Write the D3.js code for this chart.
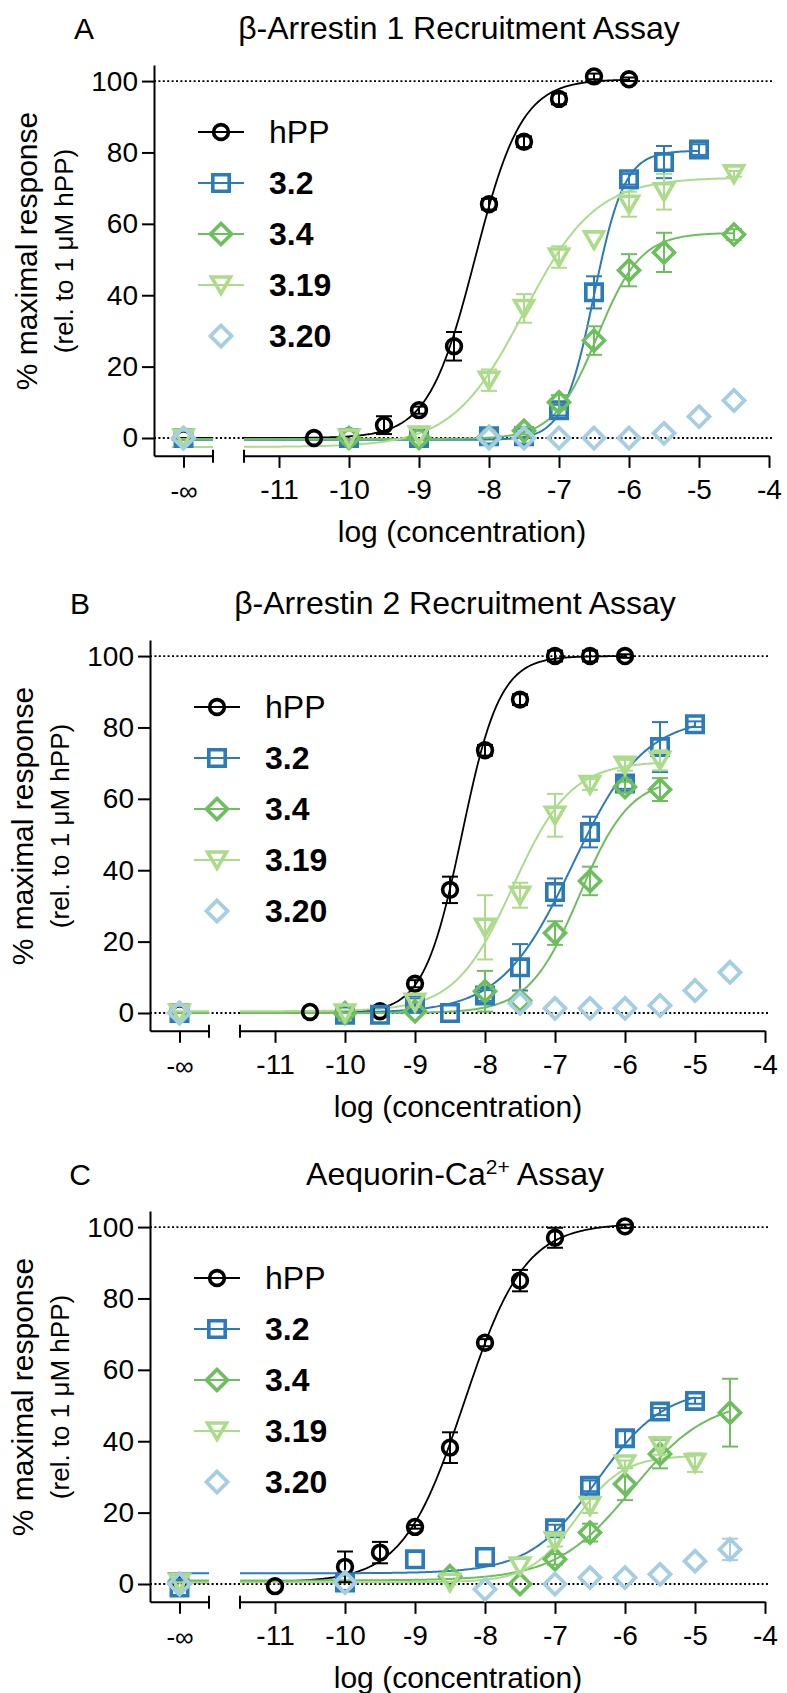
<!DOCTYPE html>
<html>
<head>
<meta charset="utf-8">
<title>Concentration-response curves</title>
<style>
  body { margin: 0; background: #ffffff; }
  svg { display: block; font-family: "Liberation Sans", Arial, sans-serif; }
</style>
</head>
<body>
<div id="chart"></div>
<script src="https://d3js.org/d3.v7.min.js"></script>
<script>
// legend order
var seriesNames = ["hPP", "3.2", "3.4", "3.19", "3.20"];
var seriesColors = ["#000000", "#2b7bba", "#6cbf5c", "#acdc8b", "#a6cee3"];
var seriesShapes = ["circle", "square", "diamond", "triangle", "diamond"];

var panelLetters = ["A", "B", "C"];
var xTicks = [-11, -10, -9, -8, -7, -6, -5, -4];
var yTicks = [0, 20, 40, 60, 80, 100];

var NEG_INF = -Infinity;

// points: [log concentration, % response, error]
var aHPP = [[NEG_INF, 0, 0], [-10.5, 0, 0], [-10, 0.5, 0], [-9.5, 3.6, 2.5], [-9, 7.8, 1], [-8.5, 25.7, 4],
            [-8, 65.5, 1.5], [-7.5, 83, 1.5], [-7, 95, 1.5], [-6.5, 101.3, 0.8], [-6, 100.5, 0.5]];
var a32 = [[NEG_INF, 0, 0], [-10, 0, 0], [-9, 0, 0], [-8, 0.5, 0], [-7.5, 0.5, 0], [-7, 7.8, 1.5],
           [-6.5, 40.8, 4.5], [-6, 72.5, 1.5], [-5.5, 77.3, 4.5], [-5, 80.8, 1.5]];
var a34 = [[NEG_INF, 0, 0], [-10, 0, 0], [-9, 0, 0], [-8, 0.3, 0], [-7.5, 2, 1], [-7, 10, 2],
           [-6.5, 27.3, 4], [-6, 47, 4.5], [-5.5, 52, 5.5], [-4.5, 57, 1.5]];
var a319 = [[NEG_INF, 0, 0], [-10, 0, 0], [-9, 0.8, 0], [-8, 16.2, 3], [-7.5, 36.3, 4], [-7, 50.7, 3],
            [-6.5, 55.5, 0], [-6, 65.5, 3.5], [-5.5, 69, 5], [-4.5, 74, 0.8]];
var a320 = [[NEG_INF, 0, 0], [-8, 0, 0], [-7.5, 0, 0], [-7, 0, 0], [-6.5, 0, 0], [-6, 0, 0],
            [-5.5, 1.3, 0], [-5, 6, 0], [-4.5, 10.5, 0]];

var bHPP = [[NEG_INF, 0, 0], [-10.5, 0.3, 0], [-9.5, 0.5, 0], [-9, 8.2, 1], [-8.5, 34.5, 3.7],
            [-8, 73.6, 1.5], [-7.5, 87.8, 1.5], [-7, 100, 1.5], [-6.5, 100, 1.5], [-6, 100, 0.5]];
var b32 = [[NEG_INF, 0, 0], [-10, -0.5, 0], [-9.5, -0.5, 0], [-9, 2.6, 1.5], [-8.5, 0, 0], [-8, 4.9, 1.5],
           [-7.5, 12.8, 6.5], [-7, 33.9, 3.8], [-6.5, 50.7, 4.3], [-6, 64.3, 1.5], [-5.5, 74.5, 7], [-5, 80.9, 0.8]];
var b34 = [[NEG_INF, 0, 0], [-10, 0, 0], [-9, 0.5, 0], [-8, 6.1, 5.7], [-7.5, 3.5, 0], [-7, 22.4, 3.3],
           [-6.5, 37, 4], [-6, 63.3, 1.5], [-5.5, 62.6, 3.2]];
var b319 = [[NEG_INF, 0, 0], [-10, 0, 0], [-9, 3, 0], [-8, 24, 9], [-7.5, 33, 3.5], [-7, 55.4, 6],
            [-6.5, 64, 1.5], [-6, 69.4, 1.5], [-5.5, 70.8, 2.8]];
var b320 = [[NEG_INF, 0, 0], [-7.5, 2.7, 0], [-7, 1.3, 0], [-6.5, 1.3, 0], [-6, 1.3, 0], [-5.5, 2.1, 0],
            [-5, 6.3, 0], [-4.5, 11.4, 0]];

var cHPP = [[NEG_INF, 0, 0], [-11, -0.6, 0], [-10, 4.8, 4.3], [-9.5, 8.8, 3], [-9, 16, 0.5], [-8.5, 38.2, 4.3],
            [-8, 67.6, 1], [-7.5, 85, 3], [-7, 97, 2.8], [-6, 100.2, 0.5]];
var c32 = [[NEG_INF, -1, 0], [-10, 0.4, 0], [-9, 6.9, 0], [-8, 7.6, 0], [-7, 15.6, 1], [-6.5, 27.5, 1.5],
           [-6, 40.8, 2], [-5.5, 48.3, 1], [-5, 51.3, 0.8]];
var c34 = [[NEG_INF, 0, 0], [-8.5, 2.2, 0], [-7.5, 0, 0], [-7, 6.9, 1.5], [-6.5, 14.4, 2.5], [-6, 28, 4.5],
           [-5.5, 36.4, 4], [-4.5, 48, 9.5]];
var c319 = [[NEG_INF, 0.5, 0], [-8.5, 0.5, 0], [-7.5, 5, 0], [-7, 12, 1.5], [-6.5, 21.9, 2], [-6, 33.6, 1],
            [-5.5, 38.7, 2.5], [-5, 34, 2.6]];
var c320 = [[NEG_INF, 0, 0], [-10, 0.4, 0], [-8, -1.5, 0], [-7, 0, 0], [-6.5, 1.8, 0], [-6, 1.8, 0],
            [-5.5, 2.7, 0], [-5, 6.4, 0], [-4.5, 9.7, 3]];

// fitted curves: [bottom, top, logEC50, hill] (3.20 not fitted)
var aFits = [[0, 100.5, -8.2, 1.3], [-0.5, 80.5, -6.5, 2], [-0.3, 57.5, -6.45, 1.4], [-2.5, 73, -7.5, 0.85]];
var bFits = [[0, 100, -8.33, 1.6], [0, 83, -6.75, 0.85], [0, 66, -6.65, 1.2], [0.5, 70.5, -7.6, 1.05]];
var cFits = [[0.5, 101, -8.3, 1.0], [3, 55, -6.4, 0.9], [1, 52, -5.9, 0.8], [0.5, 36, -6.7, 1.3]];

var panelPoints = [[aHPP, a32, a34, a319, a320], [bHPP, b32, b34, b319, b320], [cHPP, c32, c34, c319, c320]];
var panelFits = [aFits, bFits, cFits];

// layout
var W = 787, H = 1693;
var panelLeft = [154, 150, 150];
var panelTop100 = [81, 656, 1227];

var svg = d3.select("#chart").append("svg")
  .attr("width", W)
  .attr("height", H);
svg.append("rect").attr("width", W).attr("height", H).attr("fill", "#ffffff");

var markerPaths = {
  circle: "M7.4,0A7.4,7.4 0 1,1 -7.4,0A7.4,7.4 0 1,1 7.4,0Z",
  square: "M-8.2,-8.2H8.2V8.2H-8.2Z",
  diamond: "M0,-10.5L10.5,0L0,10.5L-10.5,0Z",
  triangle: "M-9.5,-8L9.5,-8L0,8.5Z"
};
var markerStroke = 3.6;

function fitValue(p, x) {
  return p[0] + (p[1] - p[0]) / (1 + Math.pow(10, (p[2] - x) * p[3]));
}

function drawTitle(g, i, cx, baseY) {
  var t = g.append("text")
    .attr("x", cx).attr("y", baseY)
    .attr("text-anchor", "middle")
    .attr("font-size", 32);
  if (i === 0) t.text("β-Arrestin 1 Recruitment Assay");
  else if (i === 1) t.text("β-Arrestin 2 Recruitment Assay");
  else {
    t.append("tspan").text("Aequorin-Ca");
    t.append("tspan").attr("font-size", 21).attr("dy", -11).text("2+");
    t.append("tspan").attr("dy", 11).text(" Assay");
  }
}

function drawPanel(i) {
  var ax = panelLeft[i];
  var top100 = panelTop100[i];
  var g = svg.append("g");

  var y = d3.scaleLinear().domain([-5, 104.5]).range([top100 + 357 + 17.85, top100 - 16]);
  var xRight = d3.scaleLinear().domain([-11.5, -4]).range([ax + 90, ax + 615]);
  var xLeft = d3.scaleLinear().domain([0, 1]).range([ax, ax + 59]);
  var axisY = y(-5);

  function xPos(v) { return v === NEG_INF ? xLeft(0.5) : xRight(v); }

  // reference lines at 0 and 100
  [0, 100].forEach(function (v) {
    g.append("line")
      .attr("x1", ax).attr("x2", xRight(-4) + 4)
      .attr("y1", y(v)).attr("y2", y(v))
      .attr("stroke", "#000").attr("stroke-width", 1.8)
      .attr("stroke-dasharray", "2,2.4");
  });

  // y axis
  var yAxis = g.append("g")
    .attr("transform", "translate(" + ax + ",0)")
    .call(d3.axisLeft(y).tickValues(yTicks).tickSize(12).tickSizeOuter(0).tickPadding(4));
  yAxis.selectAll("text").attr("font-size", 28).attr("font-family", null).attr("fill", "#000");

  // left x segment (-inf)
  var xAxisL = g.append("g")
    .attr("transform", "translate(0," + axisY + ")")
    .call(d3.axisBottom(xLeft).tickValues([0.5]).tickFormat(function () { return "-∞"; })
      .tickSize(12).tickSizeOuter(0).tickPadding(14));
  xAxisL.selectAll("text").attr("font-size", 26).attr("font-family", null).attr("fill", "#000");

  // right x segment
  var xAxisR = g.append("g")
    .attr("transform", "translate(0," + axisY + ")")
    .call(d3.axisBottom(xRight).tickValues(xTicks).tickFormat(function (d) { return String(d); })
      .tickSize(12).tickSizeOuter(0).tickPadding(11));
  xAxisR.selectAll("text").attr("font-size", 28).attr("font-family", null).attr("fill", "#000");

  g.selectAll(".domain, .tick line").attr("stroke", "#000").attr("stroke-width", 2);

  // break marks
  [xLeft(1), xRight(-11.5)].forEach(function (bx) {
    g.append("line")
      .attr("x1", bx).attr("x2", bx)
      .attr("y1", axisY - 6).attr("y2", axisY + 7)
      .attr("stroke", "#000").attr("stroke-width", 2);
  });

  // axis labels
  g.append("text")
    .attr("x", ax + 308).attr("y", axisY + 86)
    .attr("text-anchor", "middle").attr("font-size", 30)
    .text("log (concentration)");
  g.append("text")
    .attr("transform", "translate(" + (ax - 117) + "," + (top100 + 170) + ") rotate(-90)")
    .attr("text-anchor", "middle").attr("font-size", 30)
    .text("% maximal response");
  g.append("text")
    .attr("transform", "translate(" + (ax - 81) + "," + (top100 + 170) + ") rotate(-90)")
    .attr("text-anchor", "middle").attr("font-size", 26)
    .text("(rel. to 1 μM hPP)");

  // title + panel letter
  drawTitle(g, i, ax + 305, top100 - 42);
  g.append("text")
    .attr("x", ax - 70).attr("y", top100 - 42)
    .attr("text-anchor", "middle").attr("font-size", 30)
    .text(panelLetters[i]);

  // fitted curves
  var line = d3.line().x(function (d) { return xRight(d[0]); }).y(function (d) { return y(d[1]); });
  panelFits[i].forEach(function (p, s) {
    var pts = panelPoints[i][s];
    var xEnd = pts[pts.length - 1][0];
    var xs = d3.range(-11.5, xEnd + 0.0001, 0.02);
    g.append("path")
      .datum(xs.map(function (x) { return [x, fitValue(p, x)]; }))
      .attr("d", line)
      .attr("fill", "none")
      .attr("stroke", seriesColors[s])
      .attr("stroke-width", s === 0 ? 1.8 : 2);
    // bottom plateau in the -inf segment
    g.append("line")
      .attr("x1", xLeft(0.3)).attr("x2", xLeft(1))
      .attr("y1", y(p[0])).attr("y2", y(p[0]))
      .attr("stroke", seriesColors[s]).attr("stroke-width", 2);
  });

  // error bars and markers
  panelPoints[i].forEach(function (pts, s) {
    var col = seriesColors[s];
    var sg = g.append("g");
    pts.filter(function (d) { return d[2] > 0; }).forEach(function (d) {
      var px = xPos(d[0]);
      sg.append("line")
        .attr("x1", px).attr("x2", px)
        .attr("y1", y(d[1] - d[2])).attr("y2", y(d[1] + d[2]))
        .attr("stroke", col).attr("stroke-width", 2);
      [d[1] - d[2], d[1] + d[2]].forEach(function (v) {
        sg.append("line")
          .attr("x1", px - 8).attr("x2", px + 8)
          .attr("y1", y(v)).attr("y2", y(v))
          .attr("stroke", col).attr("stroke-width", 2);
      });
    });
    sg.selectAll("path.pt")
      .data(pts)
      .enter().append("path")
      .attr("class", "pt")
      .attr("transform", function (d) { return "translate(" + xPos(d[0]) + "," + y(d[1]) + ")"; })
      .attr("d", markerPaths[seriesShapes[s]])
      .attr("fill", "none")
      .attr("stroke", col)
      .attr("stroke-width", s === 4 ? 3.8 : markerStroke);
  });

  // legend
  var lx = ax + 67;
  seriesNames.forEach(function (name, s) {
    var ly = top100 + 51 + s * 51;
    if (s < 4) {
      g.append("line")
        .attr("x1", lx - 23).attr("x2", lx + 23)
        .attr("y1", ly).attr("y2", ly)
        .attr("stroke", seriesColors[s]).attr("stroke-width", 2);
    }
    g.append("path")
      .attr("transform", "translate(" + lx + "," + ly + ")")
      .attr("d", markerPaths[seriesShapes[s]])
      .attr("fill", "none")
      .attr("stroke", seriesColors[s])
      .attr("stroke-width", s === 4 ? 3.8 : markerStroke);
    g.append("text")
      .attr("x", ax + 115).attr("y", ly + 11)
      .attr("font-size", 32)
      .attr("font-weight", s === 0 ? "normal" : "bold")
      .text(name);
  });
}

[0, 1, 2].forEach(drawPanel);
</script>
</body>
</html>
